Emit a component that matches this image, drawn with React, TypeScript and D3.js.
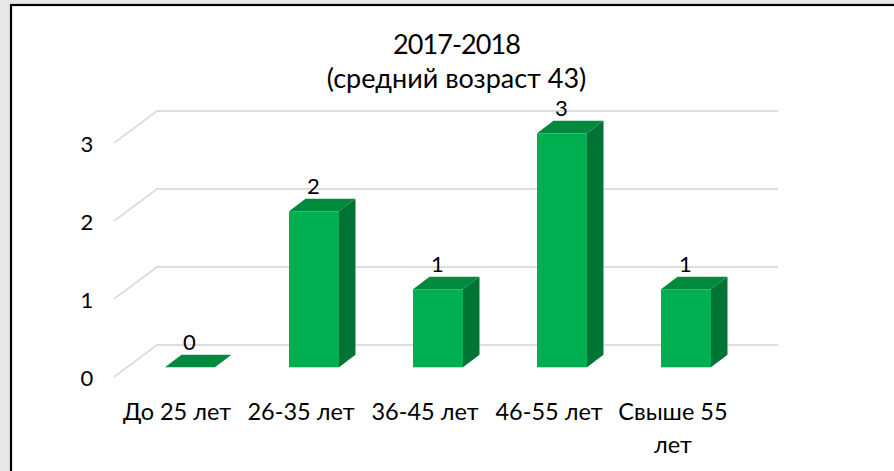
import React from "react";
import * as d3 from "d3";

const categories = ["До 25 лет", "26-35 лет", "36-45 лет", "46-55 лет", "Свыше 55 лет"];
const values = [0, 2, 1, 3, 1];
const yTicks = [0, 1, 2, 3];
const titleLines = ["2017-2018", "(средний возраст 43)"];

const W = 894, H = 471;
const FONT = "Lato, Carlito, Calibri, sans-serif";
const depthX = 16.5, depthY = 12.5;

export default function App() {
  const x = d3.scaleBand<string>().domain(categories).range([128, 748]).paddingInner(0.597).paddingOuter(0.2985);
  const yFront = d3.scaleLinear().domain([0, 3]).range([367.3, 133.3]);
  const gridFront = d3.scaleLinear().domain([0, 3]).range([377, 143]);
  const gridBack = d3.scaleLinear().domain([0, 3]).range([345, 111]);
  const bw = x.bandwidth();
  const line = d3.line();
  const poly = (pts: [number, number][]) => line(pts) + "Z";

  return (
    <svg width={W} height={H} viewBox={`0 0 ${W} ${H}`} style={{ position: "absolute", left: 0, top: 0, display: "block" }} fontFamily={FONT}>
      <rect x={0} y={0} width={W} height={H} fill="#e7e7e7" />
      <rect x={11} y={5} width={W} height={H} fill="#ffffff" stroke="#000000" strokeWidth={2.2} />

      {yTicks.map((t) => (
        <g key={t}>
          <path d={line([[114, gridFront(t)], [157, gridBack(t)], [778, gridBack(t)]]) ?? ""} fill="none" stroke="#dedede" strokeWidth={1.8} />
          <text x={87} y={gridFront(t) + 9} fontSize={22} textAnchor="middle" fill="#000">{t}</text>
        </g>
      ))}

      {categories.map((c, i) => {
        const x0 = x(c)!;
        const x1 = x0 + bw;
        const yb = yFront(0);
        const yt = yFront(values[i]);
        return (
          <g key={c}>
            {values[i] > 0 && (
              <>
                <path d={poly([[x1, yt], [x1 + depthX, yt - depthY], [x1 + depthX, yb - depthY], [x1, yb]])} fill="#007434" />
                <rect x={x0} y={yt} width={bw} height={yb - yt} fill="#00b050" />
              </>
            )}
            <path d={poly([[x0, yt], [x0 + depthX, yt - depthY], [x1 + depthX, yt - depthY], [x1, yt]])} fill="#008a3e" />
            <text x={x0 + bw / 2 - 0.5} y={yt - 17} fontSize={22} textAnchor="middle" fill="#000">{values[i]}</text>
          </g>
        );
      })}

      {categories.map((c) => {
        const cx = x(c)! + bw / 2;
        const words = c === "Свыше 55 лет" ? ["Свыше 55", "лет"] : [c];
        return words.map((w, j) => (
          <text key={w} x={cx - 13} y={420 + j * 33} fontSize={23.5} textAnchor="middle" fill="#000">{w}</text>
        ));
      })}

      {titleLines.map((l, i) => (
        <text key={l} x={456.5} y={54 + i * 34} fontSize={27} textAnchor="middle" letterSpacing={i === 0 ? -0.9 : 0} fill="#000">{l}</text>
      ))}
    </svg>
  );
}
